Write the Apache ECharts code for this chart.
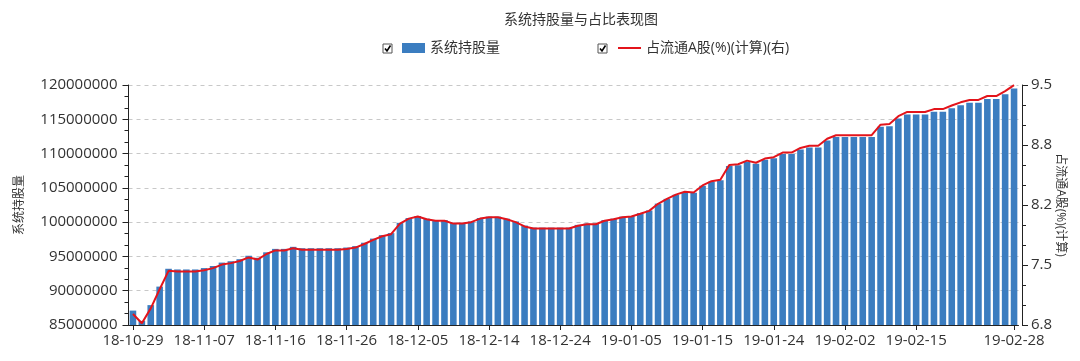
<!DOCTYPE html>
<html>
<head>
<meta charset="utf-8">
<script src="https://cdn.jsdelivr.net/npm/echarts@6/dist/echarts.min.js"></script>
<style>
html,body{margin:0;padding:0;background:#fff;}
#chart{width:1080px;height:361px;}
</style>
</head>
<body>
<div id="chart"></div>
<script>
const dates = [
'18-10-29','18-10-30','18-10-31','18-11-01','18-11-02','18-11-03','18-11-05','18-11-06','18-11-07',
'18-11-08','18-11-09','18-11-10','18-11-12','18-11-13','18-11-14','18-11-15','18-11-16',
'18-11-17','18-11-19','18-11-20','18-11-21','18-11-22','18-11-23','18-11-24','18-11-26',
'18-11-27','18-11-28','18-11-29','18-11-30','18-12-01','18-12-03','18-12-04','18-12-05',
'18-12-06','18-12-07','18-12-08','18-12-10','18-12-11','18-12-12','18-12-13','18-12-14',
'18-12-15','18-12-17','18-12-18','18-12-19','18-12-20','18-12-21','18-12-22','18-12-24',
'18-12-25','18-12-26','18-12-27','18-12-28','19-01-02','19-01-03','19-01-04','19-01-05',
'19-01-07','19-01-08','19-01-09','19-01-10','19-01-11','19-01-12','19-01-14','19-01-15',
'19-01-16','19-01-17','19-01-18','19-01-19','19-01-21','19-01-22','19-01-23','19-01-24',
'19-01-25','19-01-26','19-01-28','19-01-29','19-01-30','19-01-31','19-02-01','19-02-02',
'19-02-03','19-02-09','19-02-10','19-02-11','19-02-12','19-02-13','19-02-14','19-02-15',
'19-02-16','19-02-18','19-02-19','19-02-20','19-02-21','19-02-22','19-02-23','19-02-25','19-02-26','19-02-27','19-02-28'
];

const holdings = [
87100000, 85600000, 87900000, 90600000, 93200000, 93100000, 93100000, 93100000, 93300000, 93600000,
94100000, 94300000, 94600000, 95100000, 94800000, 95600000, 96100000, 96100000, 96400000, 96200000,
96200000, 96200000, 96200000, 96200000, 96300000, 96500000, 97000000, 97600000, 98100000, 98400000,
99900000, 100600000, 100900000, 100500000, 100300000, 100300000, 99900000, 99900000, 100100000, 100600000,
100800000, 100800000, 100500000, 100100000, 99500000, 99200000, 99200000, 99200000, 99200000, 99200000,
99600000, 99800000, 99800000, 100300000, 100500000, 100800000, 100900000, 101300000, 101700000, 102700000,
103400000, 104000000, 104400000, 104300000, 105300000, 105900000, 106100000, 108200000, 108300000, 108800000,
108500000, 109100000, 109300000, 109950000, 109950000, 110600000, 110900000, 110900000, 111900000, 112400000,
112400000, 112400000, 112400000, 112400000, 113900000, 114000000, 115100000, 115700000, 115700000, 115700000,
116100000, 116100000, 116600000, 117050000, 117400000, 117400000, 117950000, 117950000, 118650000, 119500000
];

const ratio = [
6.924, 6.820, 6.987, 7.202, 7.409, 7.401, 7.401, 7.401, 7.417, 7.440,
7.480, 7.496, 7.520, 7.560, 7.536, 7.599, 7.639, 7.639, 7.663, 7.647,
7.647, 7.647, 7.647, 7.647, 7.655, 7.671, 7.711, 7.758, 7.798, 7.822,
7.941, 7.997, 8.021, 7.989, 7.973, 7.973, 7.941, 7.941, 7.957, 7.997,
8.013, 8.013, 7.989, 7.957, 7.909, 7.886, 7.886, 7.886, 7.886, 7.886,
7.917, 7.933, 7.933, 7.973, 7.989, 8.013, 8.021, 8.052, 8.084, 8.164,
8.219, 8.267, 8.299, 8.291, 8.370, 8.418, 8.434, 8.601, 8.609, 8.649,
8.625, 8.672, 8.688, 8.740, 8.740, 8.792, 8.816, 8.816, 8.895, 8.935,
8.935, 8.935, 8.935, 8.935, 9.054, 9.062, 9.149, 9.197, 9.197, 9.197,
9.229, 9.229, 9.269, 9.305, 9.332, 9.332, 9.376, 9.376, 9.432, 9.499
];

const xTickLabels = ['18-10-29','18-11-07','18-11-16','18-11-26','18-12-05','18-12-14','18-12-24','19-01-05','19-01-15','19-01-24','19-02-02','19-02-15','19-02-28'];
const rightTickLabels = ['6.8','7.5','8.2','8.8','9.5'];

const titleText = '系统持股量与占比表现图';
const barName = '系统持股量';
const lineName = '占流通A股(%)(计算)(右)';
const rightAxisName = '占流通A股(%)(计算)';

const FONT = "'Open Sans', 'Noto Sans CJK SC', sans-serif";
const chart = echarts.init(document.getElementById('chart'), null, {renderer: 'canvas'});

function checkbox(x, y) {
  return {
    type: 'group', x: x, y: y,
    children: [
      {type: 'rect', shape: {x: 0, y: 0, width: 9, height: 9}, style: {fill: '#fff', stroke: '#555', lineWidth: 1}},
      {type: 'polyline', shape: {points: [[2, 4.5], [4, 7], [7.5, 1.5]]}, style: {stroke: '#000', lineWidth: 1.6, fill: null}}
    ]
  };
}

const showLabel = (i, v) => xTickLabels.indexOf(dates[i]) >= 0;

chart.setOption({
  animation: false,
  textStyle: {fontFamily: FONT},
  title: {
    text: titleText, left: 499, top: 8,
    textStyle: {fontSize: 14, fontWeight: 'normal', color: '#333', fontFamily: FONT}
  },
  legend: {
    left: 397, top: 36,
    itemWidth: 23, itemHeight: 10, itemGap: 117,
    textStyle: {fontSize: 14, color: '#333', fontFamily: FONT},
    data: [
      {name: barName, icon: 'rect'},
      {name: lineName, itemStyle: {color: 'rgba(0,0,0,0)', borderWidth: 0, opacity: 0}, lineStyle: {color: '#e3141b', width: 2}}
    ]
  },
  graphic: [checkbox(383, 44), checkbox(598, 44)],
  grid: {left: 128.5, right: 61.5, top: 85, bottom: 36},
  xAxis: {
    type: 'category',
    data: dates,
    boundaryGap: true,
    axisLine: {lineStyle: {color: '#222', width: 1}},
    axisTick: {show: true, interval: showLabel, alignWithLabel: true, length: 5, lineStyle: {color: '#222'}},
    axisLabel: {interval: showLabel, fontSize: 15, color: '#333', margin: 8, fontFamily: FONT},
    splitLine: {show: false}
  },
  yAxis: [
    {
      type: 'value', position: 'left',
      min: 85000000, max: 120000000, interval: 5000000,
      name: barName, nameLocation: 'middle', nameGap: 103, nameRotate: 90,
      nameTextStyle: {fontSize: 12, color: '#333', fontFamily: FONT},
      axisLine: {show: true, lineStyle: {color: '#222'}},
      axisTick: {show: true, length: 6, lineStyle: {color: '#222'}},
      minorTick: {show: true, splitNumber: 3, length: 4, lineStyle: {color: '#222'}},
      axisLabel: {fontSize: 15, color: '#333', margin: 11, fontFamily: FONT, formatter: v => String(v)},
      splitLine: {show: true, lineStyle: {color: '#c8c8c8', type: [4, 4], width: 1}}
    },
    {
      type: 'value', position: 'right', offset: 3.5,
      min: 6.8, max: 9.5, interval: 0.675,
      name: rightAxisName, nameLocation: 'middle', nameGap: 32, nameRotate: -90,
      nameMoveOverlap: false,
      nameTextStyle: {fontSize: 12, color: '#333', fontFamily: FONT},
      axisLine: {show: true, lineStyle: {color: '#222'}},
      axisTick: {show: true, length: 6, lineStyle: {color: '#222'}},
      minorTick: {show: true, splitNumber: 3, length: 4, lineStyle: {color: '#222'}},
      axisLabel: {
        fontSize: 15, color: '#333', margin: 9, fontFamily: FONT,
        formatter: v => rightTickLabels[Math.round((v - 6.8) / 0.675)]
      },
      splitLine: {show: false}
    }
  ],
  series: [
    {
      name: barName, type: 'bar', yAxisIndex: 0,
      data: holdings, barWidth: '74%',
      itemStyle: {color: '#3b7dc0'}
    },
    {
      name: lineName, type: 'line', yAxisIndex: 1,
      data: ratio, symbol: 'none', showSymbol: false,
      lineStyle: {color: '#e3141b', width: 2},
      itemStyle: {color: '#e3141b'}
    }
  ]
});
</script>
</body>
</html>
